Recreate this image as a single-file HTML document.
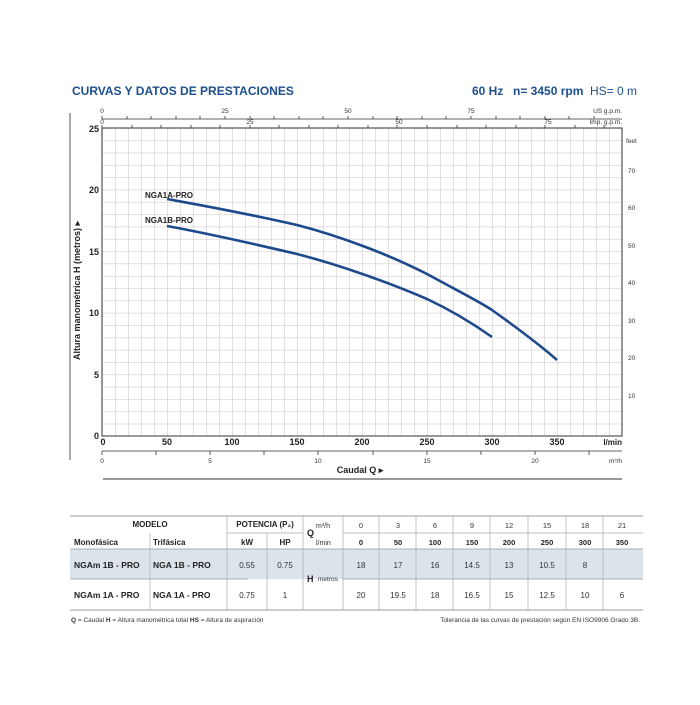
<!DOCTYPE html>
<html><head><meta charset="utf-8"><style>
body{margin:0;background:#fff;width:700px;height:700px;overflow:hidden;font-family:"Liberation Sans",sans-serif;}
</style></head><body>
<svg width="700" height="700" xmlns="http://www.w3.org/2000/svg" font-family="Liberation Sans, sans-serif">
<defs>
<pattern id="g" x="102" y="128" width="13" height="12.32" patternUnits="userSpaceOnUse">
<path d="M0 0V12.32M0 0H13" stroke="#cfcfcf" stroke-width="1.3" fill="none"/>
</pattern>
</defs>
<text x="72" y="95" font-size="12" font-weight="bold" fill="#1d4f8f">CURVAS Y DATOS DE PRESTACIONES</text>
<text x="472" y="95" font-size="12" font-weight="bold" fill="#1d4f8f">60 Hz</text>
<text x="513" y="95" font-size="12" font-weight="bold" fill="#1d4f8f">n= 3450 rpm</text>
<text x="590" y="95" font-size="12" fill="#1d4f8f">HS= 0 m</text>
<line x1="70" y1="113" x2="70" y2="460" stroke="#555" stroke-width="1"/>
<line x1="102" y1="119" x2="622" y2="119" stroke="#333" stroke-width="0.8"/>
<g stroke="#333" stroke-width="0.8">
<path d="M102 116v3M127 116v3M151 116v3M176 116v3M200 116v3M225 116v3M250 116v3M274 116v3M299 116v3M323 116v3M348 116v3M373 116v3M397 116v3M422 116v3M446 116v3M471 116v3M496 116v3M520 116v3M545 116v3M569 116v3M594 116v3"/>
<path d="M102 125v3M132 125v3M161 125v3M191 125v3M220 125v3M250 125v3M279 125v3M309 125v3M338 125v3M368 125v3M397 125v3M427 125v3M457 125v3M486 125v3M516 125v3M545 125v3M575 125v3M604 125v3"/>
</g>
<g font-size="6.5" fill="#333" text-anchor="middle">
<text x="102" y="113">0</text><text x="225" y="113">25</text><text x="348" y="113">50</text><text x="471" y="113">75</text>
<text x="102" y="124">0</text><text x="250" y="124">25</text><text x="399" y="124">50</text><text x="548" y="124">75</text>
</g>
<text x="622" y="113" font-size="6.5" fill="#333" text-anchor="end">US g.p.m.</text>
<text x="622" y="124" font-size="6.5" fill="#333" text-anchor="end">Imp. g.p.m.</text>
<rect x="102" y="128" width="520" height="308" fill="url(#g)"/>
<rect x="102" y="128" width="520" height="308" fill="none" stroke="#333" stroke-width="1"/>
<g font-size="9" font-weight="bold" fill="#222" text-anchor="end">
<text x="99" y="132">25</text><text x="99" y="193">20</text><text x="99" y="255">15</text><text x="99" y="316">10</text><text x="99" y="378">5</text><text x="99" y="439">0</text>
</g>
<text transform="translate(80,360) rotate(-90)" font-size="9" font-weight="bold" fill="#222">Altura manométrica H (metros) ▸</text>
<g font-size="6.5" fill="#333">
<text x="626" y="143">feet</text>
<text x="628" y="173">70</text><text x="628" y="210">60</text><text x="628" y="248">50</text><text x="628" y="285">40</text><text x="628" y="323">30</text><text x="628" y="360">20</text><text x="628" y="398">10</text>
</g>
<path d="M167 199 C200 205 240 212 297 225 C340 236 390 255 427 274 C460 292 480 302 492 310 C520 330 540 345 557 360" fill="none" stroke="#1d4a8c" stroke-width="2.6"/>
<path d="M167 226 C200 232 250 243 297 254 C340 265 390 283 427 299 C455 312 475 325 492 337" fill="none" stroke="#1d4a8c" stroke-width="2.6"/>
<text x="145" y="198" font-size="8" font-weight="bold" fill="#222">NGA1A-PRO</text>
<text x="145" y="223" font-size="8" font-weight="bold" fill="#222">NGA1B-PRO</text>
<g font-size="9" font-weight="bold" fill="#222" text-anchor="middle">
<text x="103" y="445">0</text><text x="167" y="445">50</text><text x="232" y="445">100</text><text x="297" y="445">150</text><text x="362" y="445">200</text><text x="427" y="445">250</text><text x="492" y="445">300</text><text x="557" y="445">350</text>
</g>
<text x="622" y="445" font-size="8" font-weight="bold" fill="#222" text-anchor="end">l/min</text>
<line x1="102" y1="451" x2="622" y2="451" stroke="#333" stroke-width="0.8"/>
<g stroke="#333" stroke-width="0.8"><path d="M102 451v4M156 451v4M210 451v4M264 451v4M318 451v4M373 451v4M427 451v4M481 451v4M535 451v4M589 451v4"/></g>
<g font-size="6.5" fill="#333" text-anchor="middle">
<text x="102" y="463">0</text><text x="210" y="463">5</text><text x="318" y="463">10</text><text x="427" y="463">15</text><text x="535" y="463">20</text>
</g>
<text x="622" y="463" font-size="6.5" fill="#333" text-anchor="end">m³/h</text>
<text x="360" y="473" font-size="9" font-weight="bold" fill="#222" text-anchor="middle">Caudal Q ▸</text>
<line x1="103" y1="479" x2="622" y2="479" stroke="#333" stroke-width="1"/>
<line x1="70" y1="516" x2="643" y2="516" stroke="#999" stroke-width="1"/>
<rect x="70" y="549" width="573" height="30" fill="#dbe4ea"/>
<line x1="70" y1="549" x2="643" y2="549" stroke="#999" stroke-width="0.8"/>
<line x1="70" y1="579" x2="248" y2="579" stroke="#999" stroke-width="0.8"/>
<line x1="343" y1="579" x2="643" y2="579" stroke="#999" stroke-width="0.8"/>
<line x1="70" y1="610" x2="643" y2="610" stroke="#999" stroke-width="1"/>
<g stroke="#aaa" stroke-width="0.7">
<path d="M150 533V610M227 516V610M267 533V610M303 516V610M343 516V610M379 516V610M416 516V610M453 516V610M490 516V610M528 516V610M566 516V610M603 516V610"/>
<path d="M227 533H303M343 533H643"/>
</g>
<g font-size="8" font-weight="bold" fill="#222">
<text x="150" y="527" text-anchor="middle">MODELO</text>
<text x="265" y="527" text-anchor="middle">POTENCIA (P₂)</text>
<text x="74" y="545">Monofásica</text><text x="153" y="545">Trifásica</text>
<text x="247" y="545" text-anchor="middle">kW</text><text x="285" y="545" text-anchor="middle">HP</text>
<text x="307" y="536" font-size="9">Q</text>
<text x="74" y="568" font-size="8.5">NGAm 1B - PRO</text><text x="153" y="568" font-size="8.5">NGA 1B - PRO</text>
<text x="74" y="598" font-size="8.5">NGAm 1A - PRO</text><text x="153" y="598" font-size="8.5">NGA 1A - PRO</text>
<text x="307" y="582" font-size="9">H</text>
</g>
<g font-size="7" fill="#333">
<text x="316" y="528">m³/h</text><text x="316" y="545">l/min</text><text x="318" y="581" font-size="6.5">metros</text>
</g>
<g font-size="7.5" fill="#333" text-anchor="middle">
<text x="361" y="528">0</text><text x="398" y="528">3</text><text x="435" y="528">6</text><text x="472" y="528">9</text><text x="509" y="528">12</text><text x="547" y="528">15</text><text x="585" y="528">18</text><text x="622" y="528">21</text>
</g>
<g font-size="7.5" font-weight="bold" fill="#222" text-anchor="middle">
<text x="361" y="545">0</text><text x="398" y="545">50</text><text x="435" y="545">100</text><text x="472" y="545">150</text><text x="509" y="545">200</text><text x="547" y="545">250</text><text x="585" y="545">300</text><text x="622" y="545">350</text>
</g>
<g font-size="8" fill="#333" text-anchor="middle">
<text x="247" y="568">0.55</text><text x="285" y="568">0.75</text>
<text x="247" y="598">0.75</text><text x="285" y="598">1</text>
<text x="361" y="568">18</text><text x="398" y="568">17</text><text x="435" y="568">16</text><text x="472" y="568">14.5</text><text x="509" y="568">13</text><text x="547" y="568">10.5</text><text x="585" y="568">8</text>
<text x="361" y="598">20</text><text x="398" y="598">19.5</text><text x="435" y="598">18</text><text x="472" y="598">16.5</text><text x="509" y="598">15</text><text x="547" y="598">12.5</text><text x="585" y="598">10</text><text x="622" y="598">6</text>
</g>
<text x="71" y="622" font-size="6.5" fill="#333"><tspan font-weight="bold">Q</tspan> = Caudal  <tspan font-weight="bold">H</tspan> = Altura manométrica total  <tspan font-weight="bold">HS</tspan> = Altura de aspiración</text>
<text x="640" y="622" font-size="6.5" fill="#333" text-anchor="end">Tolerancia de las curvas de prestación según EN ISO9906 Grado 3B.</text>
</svg>
</body></html>
